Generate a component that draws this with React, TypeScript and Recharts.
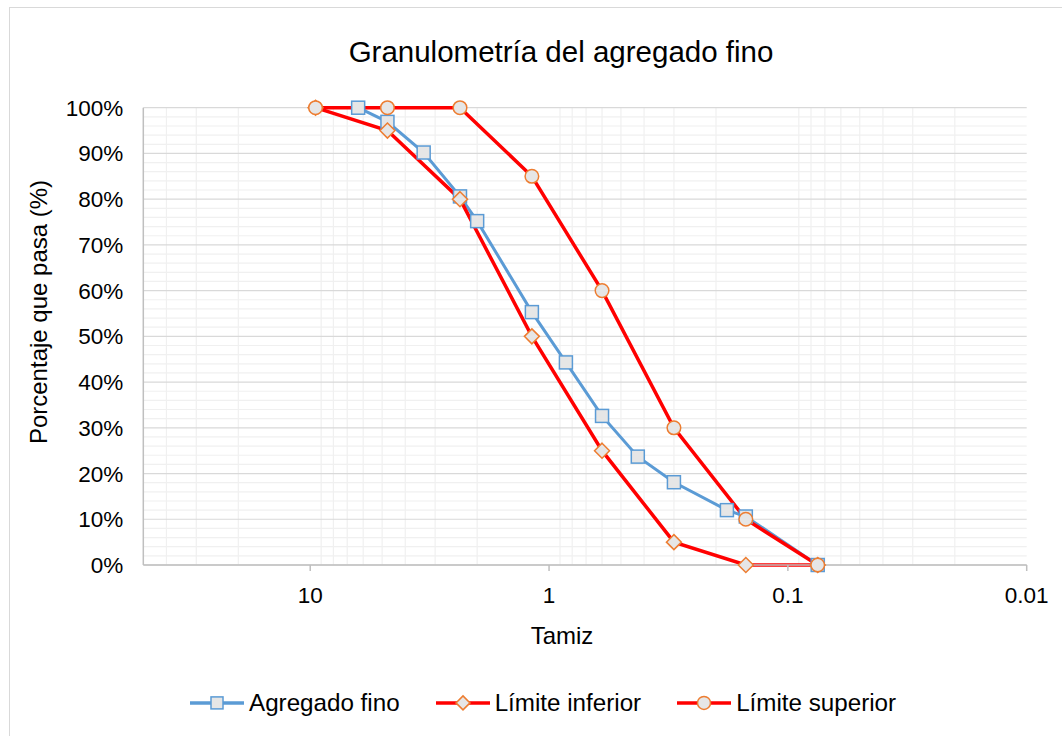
import { CartesianGrid, Line, LineChart, XAxis, YAxis } from 'recharts';

// tamiz (mm) / % que pasa
const agregadoTamiz = [6.3, 4.75, 3.35, 2.36, 2.0, 1.18, 0.85, 0.6, 0.425, 0.3, 0.18, 0.15, 0.075];
const agregadoPasa = [100, 96.9, 90.2, 80.6, 75.2, 55.3, 44.3, 32.6, 23.7, 18.1, 12.0, 10.6, 0];

const limiteTamiz = [9.5, 4.75, 2.36, 1.18, 0.6, 0.3, 0.15, 0.075];
const inferiorPasa = [100, 95, 80, 50, 25, 5, 0, 0];
const superiorPasa = [100, 100, 100, 85, 60, 30, 10, 0];

const xTicks = [10, 1, 0.1, 0.01];
const yTicks = [0, 10, 20, 30, 40, 50, 60, 70, 80, 90, 100];
const minorX = [40, 30, 20, 9, 8, 7, 6, 5, 4, 3, 2, 0.9, 0.8, 0.7, 0.6, 0.5, 0.4, 0.3, 0.2, 0.09, 0.08, 0.07, 0.06, 0.05, 0.04, 0.03, 0.02];
const minorY = [2, 4, 6, 8, 12, 14, 16, 18, 22, 24, 26, 28, 32, 34, 36, 38, 42, 44, 46, 48, 52, 54, 56, 58, 62, 64, 66, 68, 72, 74, 76, 78, 82, 84, 86, 88, 92, 94, 96, 98];

const agregado = agregadoTamiz.map((t, i) => ({ tamiz: t, pasa: agregadoPasa[i] }));
const inferior = limiteTamiz.map((t, i) => ({ tamiz: t, pasa: inferiorPasa[i] }));
const superior = limiteTamiz.map((t, i) => ({ tamiz: t, pasa: superiorPasa[i] }));

const FONT = '"Liberation Sans", Arial, sans-serif';
const BLUE = '#5B9BD5';
const RED = '#FF0000';
const ORANGE = '#ED7D31';
const MARKER_FILL = '#E6E6E6';

const scaleOf = (axis: any) => {
  const s = axis?.scale;
  if (typeof s === 'function') return s;
  if (s && typeof s.map === 'function') return (v: number) => s.map(v);
  return (v: number) => v;
};

function SquareDot(props: any) {
  const { cx, cy } = props;
  if (cx == null || cy == null) return null;
  return <rect x={cx - 6.5} y={cy - 6.5} width={13} height={13} fill={MARKER_FILL} stroke={BLUE} strokeWidth={1.5} />;
}

function DiamondDot(props: any) {
  const { cx, cy } = props;
  if (cx == null || cy == null) return null;
  const r = 7.5;
  return (
    <polygon
      points={`${cx},${cy - r} ${cx + r},${cy} ${cx},${cy + r} ${cx - r},${cy}`}
      fill={MARKER_FILL}
      stroke={ORANGE}
      strokeWidth={1.5}
    />
  );
}

function CircleDot(props: any) {
  const { cx, cy } = props;
  if (cx == null || cy == null) return null;
  return <circle cx={cx} cy={cy} r={6.8} fill={MARKER_FILL} stroke={ORANGE} strokeWidth={1.5} />;
}

const legendItems = [
  { name: 'Agregado fino', color: BLUE, marker: 'square' },
  { name: 'Límite inferior', color: RED, marker: 'diamond' },
  { name: 'Límite superior', color: RED, marker: 'circle' },
];

function LegendMarker({ color, marker }: { color: string; marker: string }) {
  return (
    <svg width={54} height={20} style={{ display: 'block' }}>
      <line x1={0} y1={10} x2={54} y2={10} stroke={color} strokeWidth={3.5} />
      {marker === 'square' && <rect x={21} y={4} width={12} height={12} fill={MARKER_FILL} stroke={BLUE} strokeWidth={1.5} />}
      {marker === 'diamond' && <polygon points="27,3 34,10 27,17 20,10" fill={MARKER_FILL} stroke={ORANGE} strokeWidth={1.5} />}
      {marker === 'circle' && <circle cx={27} cy={10} r={6.5} fill={MARKER_FILL} stroke={ORANGE} strokeWidth={1.5} />}
    </svg>
  );
}

function ChartLegend() {
  return (
    <div
      style={{
        position: 'absolute', left: 190, top: 703, transform: 'translateY(-50%)',
        display: 'flex', alignItems: 'center', gap: 36, fontFamily: FONT, fontSize: 24.2, color: '#000',
      }}
    >
      {legendItems.map((item) => (
        <div key={item.name} style={{ display: 'flex', alignItems: 'center', gap: 5 }}>
          <LegendMarker color={item.color} marker={item.marker} />
          <span style={{ lineHeight: 1, whiteSpace: 'nowrap' }}>{item.name}</span>
        </div>
      ))}
    </div>
  );
}

export default function App() {
  const tickStyle = { fontFamily: FONT, fontSize: 22.5, fill: '#000' };
  return (
    <div style={{ position: 'absolute', left: 0, top: 0, width: 1062, height: 736, overflow: 'hidden', background: '#fff' }}>
      <div style={{ position: 'absolute', left: 9, top: 7, width: 1100, height: 800, border: '1.5px solid #D9D9D9', boxSizing: 'border-box' }} />
      <div
        style={{
          position: 'absolute', left: 561, top: 52, transform: 'translate(-50%, -50%)',
          fontFamily: FONT, fontSize: 29.5, lineHeight: 1, whiteSpace: 'nowrap', color: '#000',
        }}
      >
        Granulometría del agregado fino
      </div>
      <div
        style={{
          position: 'absolute', left: 39, top: 312, transform: 'translate(-50%, -50%) rotate(-90deg)',
          fontFamily: FONT, fontSize: 24, lineHeight: 1, whiteSpace: 'nowrap', color: '#000',
        }}
      >
        Porcentaje que pasa (%)
      </div>
      <div
        style={{
          position: 'absolute', left: 562, top: 636, transform: 'translate(-50%, -50%)',
          fontFamily: FONT, fontSize: 24, lineHeight: 1, whiteSpace: 'nowrap', color: '#000',
        }}
      >
        Tamiz
      </div>
      <LineChart
        width={1062}
        height={736}
        margin={{ top: 107.7, right: 35.3, bottom: 111, left: 0 }}
        style={{ position: 'absolute', left: 0, top: 0 }}
      >
        <CartesianGrid
          stroke="#F0F0F0"
          strokeWidth={1.2}
          verticalCoordinatesGenerator={({ xAxis }: any) => minorX.map((v) => scaleOf(xAxis)(v))}
          horizontalCoordinatesGenerator={({ yAxis }: any) => minorY.map((v) => scaleOf(yAxis)(v))}
        />
        <CartesianGrid vertical={false} stroke="#D9D9D9" strokeWidth={1.2} />
        <XAxis
          type="number"
          dataKey="tamiz"
          scale="log"
          domain={[0.01, 50]}
          allowDataOverflow
          reversed
          ticks={xTicks}
          tickFormatter={(v: number) => String(v)}
          height={60}
          tick={tickStyle}
          tickSize={6}
          tickMargin={16}
          axisLine={{ stroke: '#BFBFBF', strokeWidth: 1.5 }}
          tickLine={{ stroke: '#BFBFBF', strokeWidth: 1.5 }}
        />
        <YAxis
          type="number"
          dataKey="pasa"
          domain={[0, 100]}
          ticks={yTicks}
          tickFormatter={(v: number) => `${v}%`}
          width={143.3}
          tick={tickStyle}
          tickSize={6}
          tickMargin={14}
          tickLine={false}
          axisLine={{ stroke: '#BFBFBF', strokeWidth: 1.5 }}
        />
        <Line
          data={agregado}
          dataKey="pasa"
          name="Agregado fino"
          stroke={BLUE}
          strokeWidth={3}
          dot={<SquareDot />}
          activeDot={false}
          isAnimationActive={false}
        />
        <Line
          data={inferior}
          dataKey="pasa"
          name="Límite inferior"
          stroke={RED}
          strokeWidth={3.5}
          dot={<DiamondDot />}
          activeDot={false}
          isAnimationActive={false}
        />
        <Line
          data={superior}
          dataKey="pasa"
          name="Límite superior"
          stroke={RED}
          strokeWidth={3.5}
          dot={<CircleDot />}
          activeDot={false}
          isAnimationActive={false}
        />
      </LineChart>
      <ChartLegend />
    </div>
  );
}
